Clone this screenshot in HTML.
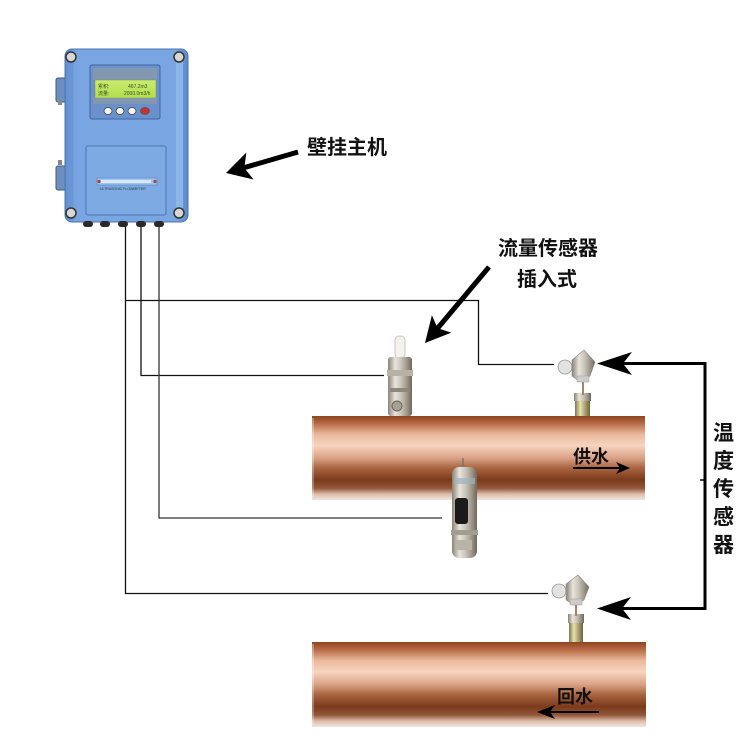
<!DOCTYPE html>
<html><head><meta charset="utf-8"><style>
html,body{margin:0;padding:0;background:#fff;}
svg{display:block;}
text{font-family:"Liberation Sans","Noto Sans CJK SC",sans-serif;font-weight:700;fill:#111;}
</style></head><body>
<svg width="750" height="750" viewBox="0 0 750 750" xmlns="http://www.w3.org/2000/svg">
<defs>
<linearGradient id="pipe" x1="0" y1="0" x2="0" y2="1">
<stop offset="0" stop-color="#8e4420"/>
<stop offset="0.08" stop-color="#b36640"/>
<stop offset="0.22" stop-color="#eab99c"/>
<stop offset="0.35" stop-color="#f7d4c0"/>
<stop offset="0.5" stop-color="#d9a286"/>
<stop offset="0.62" stop-color="#a9643f"/>
<stop offset="0.76" stop-color="#7b3a1b"/>
<stop offset="0.86" stop-color="#93573a"/>
<stop offset="0.93" stop-color="#dcbcaa"/>
<stop offset="1" stop-color="#f3e6de"/>
</linearGradient>
<linearGradient id="blue" x1="0" y1="0" x2="1" y2="0">
<stop offset="0" stop-color="#5f8ed0"/>
<stop offset="0.1" stop-color="#79a6e2"/>
<stop offset="0.9" stop-color="#79a6e2"/>
<stop offset="1" stop-color="#5a88ca"/>
</linearGradient>
<linearGradient id="metal" x1="0" y1="0" x2="1" y2="0">
<stop offset="0" stop-color="#8a8276"/>
<stop offset="0.3" stop-color="#e8e4dc"/>
<stop offset="0.55" stop-color="#c9c3b8"/>
<stop offset="0.8" stop-color="#9b9486"/>
<stop offset="1" stop-color="#6e675c"/>
</linearGradient>
<linearGradient id="gold" x1="0" y1="0" x2="1" y2="0">
<stop offset="0" stop-color="#7d7650"/>
<stop offset="0.35" stop-color="#e8e0b0"/>
<stop offset="0.7" stop-color="#a59a68"/>
<stop offset="1" stop-color="#6a6440"/>
</linearGradient>
<linearGradient id="lcd" x1="0" y1="0" x2="0" y2="1">
<stop offset="0" stop-color="#c9ec6e"/>
<stop offset="1" stop-color="#b5dc50"/>
</linearGradient>
</defs>

<!-- Pipes -->
<rect x="312" y="416" width="333" height="84" fill="url(#pipe)"/>
<rect x="312" y="642" width="334" height="85" fill="url(#pipe)"/>
<line x1="313" y1="418" x2="313" y2="498" stroke="#fff" stroke-width="1" opacity="0.6"/>
<line x1="313" y1="644" x2="313" y2="725" stroke="#fff" stroke-width="1" opacity="0.6"/>

<!-- Wires -->
<g fill="none" stroke="#111" stroke-width="1.3">
<path d="M125.5 226 V593.5 H548"/>
<path d="M125.5 300.5 H478.5 V364.5 H554"/>
<path d="M141 226 V375.5 H384"/>
<path d="M159 226 V518 H442" stroke="#333"/>
</g>

<!-- Controller -->
<g>
<rect x="56" y="78" width="10" height="24" rx="2" fill="#6d8fbf" stroke="#3d5a86" stroke-width="1"/>
<rect x="56" y="166" width="10" height="24" rx="2" fill="#6d8fbf" stroke="#3d5a86" stroke-width="1"/>
<rect x="58" y="101" width="4" height="4" fill="#888"/>
<rect x="58" y="160" width="4" height="5" fill="#888"/>
<rect x="65" y="49" width="123" height="173" rx="7" fill="url(#blue)" stroke="#4b73ad" stroke-width="1"/>
<rect x="176" y="58" width="7" height="150" fill="#93bbec" opacity="0.8"/>
<rect x="68" y="62" width="5" height="145" fill="#6994d2" opacity="0.7"/>
<circle cx="71" cy="57" r="5" fill="#d8d8d0" stroke="#333" stroke-width="1.5"/>
<circle cx="179" cy="57" r="5" fill="#d8d8d0" stroke="#333" stroke-width="1.5"/>
<circle cx="71" cy="213" r="5" fill="#d8d8d0" stroke="#333" stroke-width="1.5"/>
<circle cx="179" cy="213" r="5" fill="#d8d8d0" stroke="#333" stroke-width="1.5"/>
<rect x="90" y="65" width="70" height="54" rx="2" fill="#6a91cc" stroke="#3f66a2" stroke-width="1"/>
<rect x="93" y="68" width="64" height="12" fill="#8298b0"/>
<rect x="95" y="80" width="61" height="18" fill="url(#lcd)" stroke="#7a8f60" stroke-width="0.5"/>
<rect x="93" y="98" width="64" height="6" fill="#8298b0"/>
<text x="98" y="88" style="font-size:5px;font-weight:400;fill:#3a5020">累积:</text>
<text x="128" y="88" style="font-size:5px;font-weight:400;fill:#3a5020">467.2m3</text>
<text x="98" y="95" style="font-size:5px;font-weight:400;fill:#3a5020">流量:</text>
<text x="124" y="95" style="font-size:5px;font-weight:400;fill:#3a5020">2000.0m3/h</text>
<ellipse cx="108" cy="111" rx="4" ry="3.5" fill="#f4f4f0" stroke="#444" stroke-width="0.8"/>
<ellipse cx="120" cy="111" rx="4" ry="3.5" fill="#f4f4f0" stroke="#444" stroke-width="0.8"/>
<ellipse cx="132" cy="111" rx="4" ry="3.5" fill="#f4f4f0" stroke="#444" stroke-width="0.8"/>
<ellipse cx="145" cy="111" rx="4.5" ry="3.5" fill="#c8302c" stroke="#555" stroke-width="0.8"/>
<rect x="86" y="146" width="80" height="69" rx="2" fill="#7eaae4" stroke="#4c76b3" stroke-width="1"/>
<rect x="97" y="178" width="60" height="7" fill="#9ec3ee" stroke="#5a84be" stroke-width="0.6"/>
<rect x="101" y="180" width="50" height="3" fill="#d6e8fa"/>
<circle cx="99" cy="181.5" r="1.6" fill="#b83a30"/>
<circle cx="155" cy="181.5" r="1.6" fill="#b83a30"/>
<text x="100" y="190" style="font-size:3.5px;font-weight:400;fill:#234">ULTRASONIC FLOWMETER</text>
<g fill="#2a2a2a">
<rect x="83" y="221" width="10" height="6" rx="3"/>
<rect x="100" y="221" width="10" height="6" rx="3"/>
<rect x="118" y="221" width="10" height="6" rx="3"/>
<rect x="136" y="221" width="10" height="6" rx="3"/>
<rect x="154" y="221" width="10" height="6" rx="3"/>
</g>
</g>

<!-- Flow sensor upper -->
<rect x="395" y="336" width="10" height="22" rx="4" fill="#f4f2ec" stroke="#bbb" stroke-width="0.8"/>
<rect x="388" y="357" width="24" height="59" rx="3" fill="url(#metal)"/>
<rect x="387" y="370" width="26" height="6" fill="#b8b2a6"/>
<rect x="390" y="388" width="20" height="4" fill="#8e887c"/>
<circle cx="397" cy="406" r="5" fill="#a7a194" stroke="#6e685c" stroke-width="1"/>

<!-- Flow sensor lower -->
<line x1="463" y1="458" x2="463" y2="470" stroke="#777" stroke-width="1.5"/>
<rect x="452" y="467" width="25" height="91" rx="7" fill="url(#metal)"/>
<rect x="454" y="478" width="21" height="6" fill="#9fb1be" opacity="0.7"/>
<rect x="455" y="498" width="13" height="26" rx="3" fill="#1b1b1b"/>
<rect x="451" y="530" width="27" height="5" fill="#a39c90"/>
<rect x="456" y="540" width="16" height="10" fill="#b9b3a8"/>

<!-- Temp sensor upper -->
<g>
<rect x="575" y="395" width="15" height="21" fill="url(#gold)"/>
<rect x="574" y="393" width="17" height="8" fill="url(#metal)"/>
<line x1="583" y1="380" x2="583" y2="395" stroke="#b08060" stroke-width="2"/>
<ellipse cx="565" cy="367" rx="7" ry="7" fill="#e2e2e2" stroke="#999" stroke-width="0.8"/>
<polygon points="572,360 584,350 595,362 590,376 580,382 572,376" fill="url(#metal)" stroke="#888" stroke-width="0.6"/>
<rect x="577" y="376" width="12" height="6" fill="#ccc" stroke="#999" stroke-width="0.5"/>
</g>
<!-- Temp sensor lower -->
<g>
<rect x="569" y="617" width="14" height="25" fill="url(#gold)"/>
<rect x="568" y="614" width="16" height="9" fill="url(#metal)"/>
<line x1="576" y1="603" x2="576" y2="616" stroke="#b08060" stroke-width="2"/>
<ellipse cx="559" cy="591" rx="7" ry="7" fill="#e2e2e2" stroke="#999" stroke-width="0.8"/>
<polygon points="566,584 578,575 589,587 584,600 574,605 566,600" fill="url(#metal)" stroke="#888" stroke-width="0.6"/>
<rect x="570" y="599" width="12" height="6" fill="#ccc" stroke="#999" stroke-width="0.5"/>
</g>

<!-- Main unit arrow -->
<line x1="298" y1="152" x2="243" y2="168" stroke="#000" stroke-width="5"/>
<polygon points="226,173 253.6,179.5 244.3,168 246.4,152.5" fill="#000"/>
<!-- Flow sensor arrow -->
<line x1="489" y1="267" x2="437" y2="329" stroke="#000" stroke-width="5"/>
<polygon points="425,343 451.3,332.6 437.6,328.2 431.9,315.2" fill="#000"/>

<!-- Temp bracket -->
<path d="M620 363.5 H705 V608.5 H620" fill="none" stroke="#000" stroke-width="3"/>
<line x1="700" y1="480" x2="705" y2="480" stroke="#000" stroke-width="1.5"/>
<polygon points="597,363.5 632,352 623,363.5 632,375" fill="#000"/>
<polygon points="597,608.5 631,597 622,608.5 631,620" fill="#000"/>

<!-- Flow direction arrows -->
<line x1="573" y1="468" x2="625" y2="468" stroke="#000" stroke-width="2"/>
<polygon points="630,468 616,462 620,468 616,474" fill="#000"/>
<line x1="545" y1="712" x2="599" y2="712" stroke="#000" stroke-width="2"/>
<polygon points="537,712 555,705 550,712 555,719" fill="#000"/>

<!-- Labels -->
<text x="307" y="154" style="font-size:20px;">壁挂主机</text>
<text x="498" y="255" style="font-size:20px;">流量传感器</text>
<text x="517" y="286" style="font-size:20px;">插入式</text>
<text x="573" y="463" style="font-size:18px;">供水</text>
<text x="557" y="703" style="font-size:18px;">回水</text>
<g style="font-size:21px;">
<text x="713" y="440">温</text>
<text x="713" y="468">度</text>
<text x="713" y="496">传</text>
<text x="713" y="524">感</text>
<text x="713" y="552">器</text>
</g>
</svg>
</body></html>
